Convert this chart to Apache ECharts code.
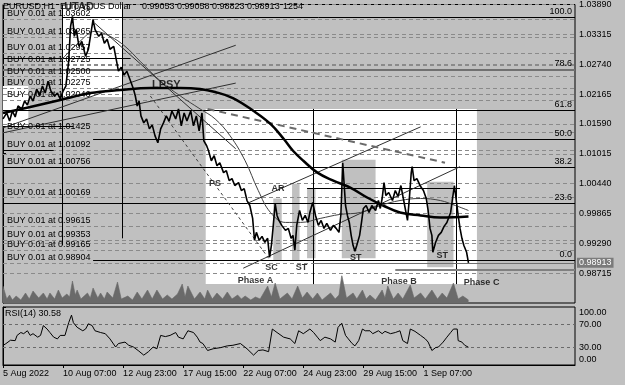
<!DOCTYPE html>
<html><head><meta charset="utf-8">
<script src="https://cdn.jsdelivr.net/npm/echarts@6/dist/echarts.min.js"></script>
<style>html,body{margin:0;padding:0;background:#c0c0c0}#c{width:625px;height:385px}</style>
</head><body><div id="c"></div>
<script>
// ---------- data ----------
const xMax = 609.5;                     // last bar index shown (chart shift)
const xTickBars = [0, 64, 128, 192, 256, 320, 384, 448];
const xTickLabels = ['5 Aug 2022', '10 Aug 07:00', '12 Aug 23:00', '17 Aug 15:00', '22 Aug 07:00', '24 Aug 23:00', '29 Aug 15:00', '1 Sep 07:00'];
const yTicks = [0.98715, 0.99290, 0.99865, 1.00440, 1.01015, 1.01590, 1.02165, 1.02740, 1.03315, 1.03890];
const rsiTicks = [0, 30, 70, 100];
const rsiLevels = [30, 70];

const priceData = [
 [0,1.01686],[4,1.01801],[7,1.01644],[10,1.01839],[13,1.01724],[16,1.01935],[20,1.01878],[23,1.02031],[26,1.01954],[29,1.02127],
 [32,1.02031],[36,1.02261],[39,1.02127],[42,1.02319],[45,1.02184],[48,1.02412],[51,1.02223],[55,1.02127],[58,1.02184],[61,1.02069],
 [64,1.02223],[67,1.02319],[70,1.02798],[72,1.03469],[74,1.03660],[76,1.03277],[78,1.03411],[81,1.03085],[84,1.03180],[88,1.02894],
 [91,1.03028],[94,1.03373],[96,1.03603],[98,1.03411],[102,1.03277],[105,1.03335],[108,1.03143],[111,1.03220],[114,1.03028],[118,1.03085],
 [121,1.02798],[123,1.02606],[126,1.02683],[129,1.02529],[132,1.02606],[136,1.02412],[139,1.02261],[141,1.02127],[143,1.01935],[145,1.02031],
 [147,1.01744],[150,1.01609],[153,1.01686],[156,1.01494],[159,1.01571],[162,1.01360],[165,1.01226],[168,1.01494],[171,1.01609],[174,1.01744],
 [177,1.01644],[180,1.01839],[184,1.01686],[187,1.01878],[190,1.01552],[193,1.01801],[196,1.01644],[200,1.01839],[203,1.01552],[206,1.01744],
 [209,1.01456],[212,1.01801],[214,1.01264],[217,1.01169],[219,1.01073],[222,1.00880],[225,1.00977],[228,1.00785],[231,1.00843],[235,1.00651],
 [238,1.00689],[241,1.00497],[244,1.00536],[247,1.00402],[251,1.00459],[254,1.00306],[257,1.00344],[260,1.00114],[263,1.00018],[266,0.99769],
 [268,0.99347],[270,0.99501],[273,0.99347],[276,0.99424],[279,0.99309],[282,0.99386],[284,0.99021],[286,0.99251],[288,0.99635],[290,1.00057],
 [292,0.99827],[294,0.99731],[297,0.99635],[301,0.99539],[304,0.99577],[307,0.99386],[309,0.99443],[311,0.99155],[313,0.99635],[316,0.99922],
 [319,0.99731],[322,0.99827],[325,0.99692],[327,0.99884],[330,1.00076],[333,0.99827],[336,0.99635],[339,0.99731],[342,0.99577],[345,0.99673],
 [349,0.99539],[352,0.99635],[355,0.99577],[358,0.99501],[360,0.99827],[362,1.00843],[365,1.00018],[367,0.99827],[369,0.99692],[371,0.99443],
 [373,0.99251],[375,0.99136],[377,0.99251],[380,0.99443],[382,0.99692],[384,0.99961],[387,1.00018],[390,0.99884],[393,1.00018],[397,0.99922],
 [400,1.00114],[402,0.99961],[404,1.00153],[406,1.00459],[408,1.00210],[411,1.00268],[415,1.00114],[418,1.00306],[421,1.00191],[424,1.00402],
 [426,1.00210],[429,0.99922],[431,0.99731],[433,1.00153],[435,1.00651],[436,1.00766],[438,1.00497],[441,1.00536],[445,1.00383],[448,1.00306],
 [451,1.00153],[453,0.99922],[455,0.99577],[457,0.99443],[458,0.99117],[461,0.99309],[464,0.99443],[467,0.99501],[470,0.99616],[473,0.99692],
 [477,0.99884],[479,1.00153],[481,1.00402],[483,1.00114],[485,0.99827],[487,0.99577],[489,0.99386],[491,0.99251],[494,0.99117],[496,0.98913]
];
const lastPrice = 0.98913;

const maSlow = [[0,1.01801],[29,1.01916],[61,1.02050],[93,1.02184],[125,1.02242],[157,1.02280],[189,1.02280],[210,1.02261],[226,1.02204],[245,1.02088],
 [267,1.01839],[285,1.01590],[299,1.01303],[309,1.01073],[320,1.00880],[335,1.00651],[352,1.00497],[370,1.00363],[388,1.00172],[405,1.00018],
 [423,0.99884],[445,0.99827],[466,0.99788],[496,0.99808]];
const maFast = [[61,1.02798],[82,1.03180],[98,1.03373],[114,1.03277],[130,1.03085],[146,1.02798],[168,1.02412],[189,1.02127],[210,1.01878],[226,1.01686],
 [242,1.01360],[258,1.00880],[272,1.00306],[285,0.99884],[301,0.99692],[317,0.99692],[338,0.99769],[359,0.99846],[381,0.99884],[402,1.00018],
 [423,1.00114],[445,1.00153],[466,1.00114],[482,1.00018],[496,0.99922]];

const volumeData = [[0,3400],[4,800],[7,1600],[10,600],[14,1400],[19,600],[24,2000],[28,800],[32,2400],[38,1000],[43,2000],[47,800],[50,2000],[55,800],
 [59,2600],[63,1000],[68,1800],[71,1200],[74,4400],[77,1600],[79,2600],[83,800],[90,2000],[93,1000],[96,3000],[101,1000],[104,2000],[108,800],
 [111,2200],[117,1000],[122,4200],[126,800],[133,1400],[138,600],[143,2200],[148,800],[154,2600],[159,800],[164,2600],[170,800],[175,1600],[180,800],
 [186,1800],[191,3800],[194,1200],[197,3400],[204,800],[210,2200],[215,800],[218,2600],[223,800],[228,2000],[234,800],[239,2200],[244,800],[250,1600],
 [254,800],[258,1400],[264,600],[269,1200],[274,800],[282,3400],[286,1200],[290,4000],[295,800],[303,2000],[308,800],[314,3400],[319,1000],[324,2200],
 [330,800],[335,2000],[340,600],[349,2000],[354,800],[358,1600],[361,5600],[366,1000],[373,2000],[377,800],[383,2600],[387,800],[391,1600],[397,600],
 [404,2600],[407,1000],[410,3400],[416,800],[421,2000],[426,800],[434,3600],[438,1000],[445,2000],[450,800],[457,2600],[463,800],[468,2000],[473,1000],
 [480,4000],[485,800],[490,1400],[496,600]];

const rsiData = [[0,33.9],[3,36.7],[8,42.7],[13,42],[15,51],[19,56],[22,54],[26,59],[29,51],[32,54],[37,48],[40,51],[43,68],[47,62],[50,56],[54,48],
 [58,45],[61,51],[66,51],[70,73],[73,86],[75,73],[79,65],[85,59],[88,62],[91,71],[95,68],[98,59],[104,56],[109,54],[114,45],[120,31],[123,37],
 [130,39.5],[134,34],[139,31],[144,25],[150,17],[155,23],[160,31],[164,28],[168,51],[173,49],[178,51],[184,56],[187,48],[192,45],[197,59],[203,56],
 [207,48],[210,39.5],[213,37],[218,25],[224,28],[232,30],[239,33],[245,34],[253,37],[260,28],[267,17],[272,25],[277,26],[283,23],[287,62],[292,56],
 [299,48],[306,45],[311,37],[315,59],[320,54],[327,62],[331,56],[335,48],[338,42],[343,48],[349,45],[354,39.5],[357,65],[361,72],[365,51],[368,45],
 [372,37],[375,33],[379,42],[383,62],[386,59],[391,59],[394,54],[400,59],[404,54],[407,58],[413,54],[418,56],[423,59],[426,42],[431,37],[434,62],
 [439,58],[445,51],[450,45],[453,39.5],[457,25],[461,30],[464,31],[469,39.5],[473,48],[477,56],[480,62],[484,62],[485,42],[489,39.5],[492,34],[496,30.58]];
const rsiLast = 30.58;

const buyLevels = [1.03602, 1.03265, 1.02957, 1.02725, 1.02500, 1.02275, 1.02046, 1.01425, 1.01092, 1.00756, 1.00169, 0.99615, 0.99353, 0.99165, 0.98904];
const buyLots = 0.01;

const fibLevels = [0, 23.6, 38.2, 50, 61.8, 78.6, 100];
const fibStartBars = [96, 0, 0, 96, 0, 0, 63];
const fibLow = 0.98963, fibHigh = 1.03641;

// [barFrom, barTo, priceLow, priceHigh]
const whiteBoxes = [[63, 127, 1.02108, 1.03890], [0, 27, 1.01533, 1.02319], [216, 505, 0.98504, 1.01878]];
const rangeBoxes = [[288, 297, 0.98963, 1.00153], [308, 316, 0.98963, 1.00440], [324, 333, 0.99002, 1.00344], [361, 397, 0.99002, 1.00900], [452, 480, 0.98829, 1.00478]];
// [barFrom, barTo, price]
const hSegments = [[0, 136, 1.02846], [0, 75, 1.01552], [0, 54, 1.01073], [324, 487, 1.00344]];
// [bar, priceTop, priceBottom]
const vLines = [[63, 1.03890, 0.99251], [127, 1.03890, 0.99386], [330.5, 1.01878, 0.98504], [482.5, 1.01878, 0.98504]];
// [bar1, price1, bar2, price2]
const trendLines = [[0, 1.01513, 248, 1.03105], [0, 1.01418, 248, 1.02376], [256, 0.98810, 487, 1.00766], [260, 1.00057, 445, 1.01533], [98, 1.03526, 248, 1.01111]];
const dashTrend = [[218, 1.01878, 471, 1.00843]];
const dotTrend = [[157, 1.02127, 283, 0.99002]];
const bidTail = [418, 0.98786];

const annoBars = [81, 174, 226, 293, 286, 318, 376, 468, 269, 422, 510];
const annoPrices = [1.03833, 1.02338, 1.00440, 1.00344, 0.98830, 0.98830, 0.99021, 0.99060, 0.98581, 0.98562, 0.98542];
const annoTexts = ['UTAD', 'LPSY', 'PS', 'AR', 'SC', 'ST', 'ST', 'ST', 'Phase A', 'Phase B', 'Phase C'];

// ---------- chart ----------
const FONT = '"Liberation Sans", Arial, sans-serif';
const txt = (s) => Object.assign({fontFamily: FONT, fontSize: 9, color: '#000', fontWeight: 'normal'}, s || {});
const chart = echarts.init(document.getElementById('c'), null, {renderer: 'canvas'});

const noLabel = {show: false};
const dashedItems = [];
yTicks.forEach(v => dashedItems.push([{coord: [0, v], label: noLabel}, {coord: [xMax, v]}]));
buyLevels.forEach(v => dashedItems.push([{coord: [0, v], label: Object.assign({show: true, position: 'insideStartTop', distance: [4, 1],
  formatter: 'BUY ' + buyLots.toFixed(2) + ' at ' + v.toFixed(5)}, txt())}, {coord: [xMax, v]}]));

const solidItems = [];
fibLevels.forEach((lv, i) => {
  const p = fibLow + (fibHigh - fibLow) * lv / 100;
  const gray = lv === 78.6;
  solidItems.push([{coord: [fibStartBars[i], p], lineStyle: {color: gray ? '#707070' : '#000', width: gray ? 2 : 1, type: 'solid'},
    label: Object.assign({show: true, position: 'insideEndTop', distance: [3, 1], formatter: lv.toFixed(1)}, txt())}, {coord: [xMax, p]}]);
});
hSegments.forEach(h => solidItems.push([{coord: [h[0], h[2]], label: noLabel}, {coord: [h[1], h[2]]}]));
vLines.forEach(v => solidItems.push([{coord: [v[0], v[1]], label: noLabel}, {coord: [v[0], v[2]]}]));
trendLines.forEach(t => solidItems.push([{coord: [t[0], t[1]], label: noLabel, lineStyle: {color: '#303030', width: 1}}, {coord: [t[2], t[3]]}]));
dashTrend.forEach(t => solidItems.push([{coord: [t[0], t[1]], label: noLabel, lineStyle: {color: '#6a6a6a', width: 2, type: [7, 5]}}, {coord: [t[2], t[3]]}]));
dotTrend.forEach(t => solidItems.push([{coord: [t[0], t[1]], label: noLabel, lineStyle: {color: '#404040', width: 1, type: [3, 3]}}, {coord: [t[2], t[3]]}]));
solidItems.push([{coord: [bidTail[0], bidTail[1]], label: noLabel, lineStyle: {color: '#808080', width: 2}}, {coord: [xMax, bidTail[1]]}]);

const rsiItems = rsiLevels.map(v => [{coord: [0, v], label: noLabel}, {coord: [xMax, v]}]);

const boxArea = (arr) => arr.map(b => [{coord: [b[0], b[3]]}, {coord: [b[1], b[2]]}]);

const option = {
  animation: false,
  backgroundColor: '#c0c0c0',
  title: [
    {text: 'EURUSD,H1  Euro vs US Dollar', left: 3, top: 2, padding: 0, textStyle: txt()},
    {text: '0.99053 0.99058 0.98823 0.98913', left: 142, top: 2, padding: 0, textStyle: txt()},
    {text: '1254', left: 283, top: 2, padding: 0, textStyle: txt()},
    {text: 'RSI(14) ' + rsiLast.toFixed(2), left: 5, top: 309, padding: 0, textStyle: txt()}
  ],
  grid: [
    {left: 3, right: 50, top: 3, height: 300, show: true, backgroundColor: '#c0c0c0', borderColor: '#000', borderWidth: 1},
    {left: 3, right: 50, top: 276, height: 27, show: false},
    {left: 3, right: 50, top: 307, height: 58, show: true, backgroundColor: '#c0c0c0', borderColor: '#000', borderWidth: 1}
  ],
  xAxis: [
    {type: 'value', gridIndex: 0, min: 0, max: xMax, show: false},
    {type: 'value', gridIndex: 1, min: 0, max: xMax, show: false},
    {type: 'value', gridIndex: 2, min: 0, max: xMax,
      axisLine: {show: true, lineStyle: {color: '#000'}},
      axisTick: {show: true, customValues: xTickBars, length: 3, lineStyle: {color: '#000'}},
      axisLabel: Object.assign({show: true, customValues: xTickBars, align: 'left', margin: 4,
        formatter: v => xTickLabels[xTickBars.indexOf(v)] || ''}, txt()),
      splitLine: {show: false}}
  ],
  yAxis: [
    {type: 'value', gridIndex: 0, position: 'right', min: 0.98140, max: 1.03890,
      axisLine: {show: true, lineStyle: {color: '#000'}},
      axisTick: {show: true, customValues: yTicks, length: 3, lineStyle: {color: '#000'}},
      axisLabel: Object.assign({show: true, customValues: yTicks, margin: 4, formatter: v => v.toFixed(5)}, txt()),
      splitLine: {show: false}},
    {type: 'value', gridIndex: 1, min: 0, max: 5400, show: false},
    {type: 'value', gridIndex: 2, position: 'right', min: 0, max: 100,
      axisLine: {show: true, lineStyle: {color: '#000'}},
      axisTick: {show: true, customValues: rsiTicks, length: 3, lineStyle: {color: '#000'}},
      axisLabel: Object.assign({show: true, customValues: rsiTicks, margin: 4,
        formatter: v => v === 100 ? '{t|100.00}' : (v === 0 ? '{b|0.00}' : v.toFixed(2)),
        rich: {t: txt({padding: [11, 0, 0, 0]}), b: txt({padding: [0, 0, 11, 0]})}}, txt()),
      splitLine: {show: false}}
  ],
  series: [
    {type: 'line', name: 'boxes', xAxisIndex: 0, yAxisIndex: 0, data: [], z: 1, silent: true,
      markArea: {silent: true, itemStyle: {color: '#ffffff'}, data: boxArea(whiteBoxes)}},
    {type: 'line', name: 'ranges', xAxisIndex: 0, yAxisIndex: 0, data: [], z: 2, silent: true,
      markArea: {silent: true, itemStyle: {color: '#c0c0c0'}, data: boxArea(rangeBoxes)}},
    {type: 'line', name: 'volume', xAxisIndex: 1, yAxisIndex: 1, data: volumeData, z: 3, symbol: 'none',
      lineStyle: {color: '#6a6a6a', width: 0.6}, areaStyle: {color: '#6a6a6a', opacity: 1}},
    {type: 'line', name: 'orders', xAxisIndex: 0, yAxisIndex: 0, data: [], z: 4, silent: true,
      markLine: {silent: true, symbol: ['none', 'none'], lineStyle: {color: '#8a8a8a', width: 1, type: [4, 3]}, data: dashedItems}},
    {type: 'line', name: 'objects', xAxisIndex: 0, yAxisIndex: 0, data: [], z: 5, silent: true,
      markLine: {silent: true, symbol: ['none', 'none'], lineStyle: {color: '#000', width: 1, type: 'solid'}, data: solidItems}},
    {type: 'line', name: 'MA slow', xAxisIndex: 0, yAxisIndex: 0, data: maSlow, z: 6, symbol: 'none', smooth: 0.4,
      lineStyle: {color: '#000', width: 2.5}},
    {type: 'line', name: 'MA fast', xAxisIndex: 0, yAxisIndex: 0, data: maFast, z: 6, symbol: 'none', smooth: 0.4,
      lineStyle: {color: '#404040', width: 1}},
    {type: 'line', name: 'EURUSD', xAxisIndex: 0, yAxisIndex: 0, data: priceData, z: 7, symbol: 'none',
      lineStyle: {color: '#000', width: 1.6},
      markLine: {silent: true, symbol: ['none', 'none'], lineStyle: {color: '#707070', width: 1, type: 'solid'},
        data: [[{coord: [330, lastPrice], label: Object.assign({show: true, position: 'end', distance: 2, formatter: lastPrice.toFixed(5),
          backgroundColor: '#7b7b7b', padding: [1, 2, 0, 2]}, txt({color: '#ffffff'}))}, {coord: [xMax, lastPrice]}]]}},
    {type: 'scatter', name: 'labels', xAxisIndex: 0, yAxisIndex: 0, z: 9, symbolSize: 1, silent: true,
      itemStyle: {color: 'transparent'},
      data: annoTexts.map((t, i) => ({value: [annoBars[i], annoPrices[i]], name: t,
        label: Object.assign({show: true, position: 'inside', formatter: t},
          txt({fontWeight: 'bold', fontSize: (t === 'UTAD' || t === 'LPSY') ? 11 : 9}))}))},
    {type: 'line', name: 'RSI(14)', xAxisIndex: 2, yAxisIndex: 2, data: rsiData, z: 5, symbol: 'none',
      lineStyle: {color: '#000', width: 1},
      markLine: {silent: true, symbol: ['none', 'none'], label: noLabel,
        lineStyle: {color: '#6a6a6a', width: 1, type: [3, 3]}, data: rsiItems}}
  ]
};
chart.setOption(option);
</script></body></html>
